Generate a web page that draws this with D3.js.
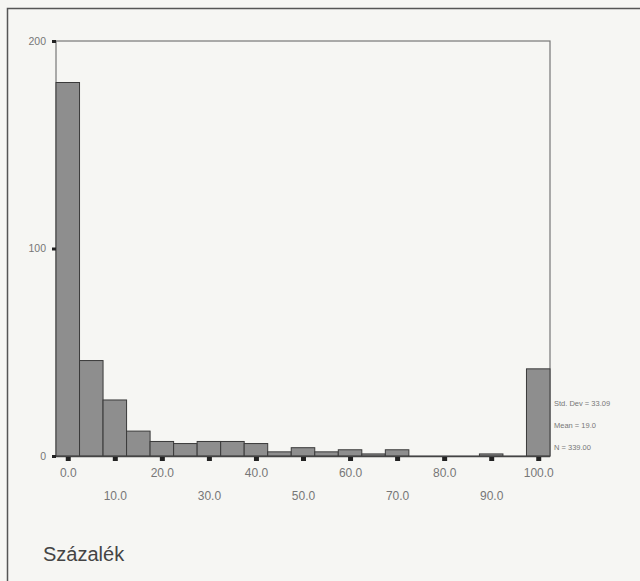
<!DOCTYPE html>
<html>
<head>
<meta charset="utf-8">
<script src="https://cdn.jsdelivr.net/npm/d3@7"></script>
<style>
  body { margin: 0; background: #f6f6f3; }
  text { font-family: Arial, "Liberation Sans", sans-serif; }
</style>
</head>
<body>
<script>
// bin centres (width 5) and counts
var binCenters = [0, 5, 10, 15, 20, 25, 30, 35, 40, 45, 50, 55, 60, 65, 70, 75, 80, 85, 90, 95, 100];
var counts = [180, 46, 27, 12, 7, 6, 7, 7, 6, 2, 4, 2, 3, 1, 3, 0, 0, 0, 1, 0, 42];
var xTicks = [0, 10, 20, 30, 40, 50, 60, 70, 80, 90, 100];
var yTicks = [0, 100, 200];
var stats = ['Std. Dev = 33.09', 'Mean = 19.0', 'N = 339.00'];
var axisTitle = 'Százalék';

var width = 640;
var height = 581;
var binWidth = 5;

var svg = d3.select('body').append('svg')
    .attr('width', width)
    .attr('height', height);

// outer page frame (only left and top visible)
svg.append('path')
    .attr('d', 'M7.5,' + height + 'V8.5H' + width)
    .attr('fill', 'none')
    .attr('stroke', '#555')
    .attr('stroke-width', 1.5);

var x = d3.scaleLinear().domain([-2.5, 102.5]).range([56, 550]);
var y = d3.scaleLinear().domain([0, 200]).range([456, 41]);

// plot box
svg.append('rect')
    .attr('x', x(-2.5))
    .attr('y', y(200))
    .attr('width', x(102.5) - x(-2.5))
    .attr('height', y(0) - y(200))
    .attr('fill', 'none')
    .attr('stroke', '#777')
    .attr('stroke-width', 1.2);

// bars
svg.selectAll('rect.bar')
    .data(binCenters)
    .enter().append('rect')
    .attr('class', 'bar')
    .attr('x', function(d) { return x(d - binWidth / 2); })
    .attr('y', function(d, i) { return y(counts[i]); })
    .attr('width', x(binWidth) - x(0))
    .attr('height', function(d, i) { return y(0) - y(counts[i]); })
    .attr('fill', '#8e8e8e')
    .attr('stroke', '#3a3a3a')
    .attr('stroke-width', 1);

// baseline
svg.append('line')
    .attr('x1', x(-2.5)).attr('x2', x(102.5))
    .attr('y1', y(0) + 0.5).attr('y2', y(0) + 0.5)
    .attr('stroke', '#444')
    .attr('stroke-width', 1.5);

// y axis
var yAxis = svg.append('g')
    .attr('transform', 'translate(' + x(-2.5) + ',0)')
    .call(d3.axisLeft(y).tickValues(yTicks).tickSize(4).tickPadding(6).tickFormat(d3.format('d')));
yAxis.select('.domain').remove();
yAxis.selectAll('line').attr('stroke', '#222').attr('stroke-width', 3);
yAxis.selectAll('text').attr('fill', '#777').attr('font-size', 10.5);

// x axis with staggered labels
var xAxis = svg.append('g')
    .attr('transform', 'translate(0,' + (y(0) + 1) + ')')
    .call(d3.axisBottom(x).tickValues(xTicks).tickSize(4).tickPadding(8).tickFormat(d3.format('.1f')));
xAxis.select('.domain').remove();
xAxis.selectAll('line').attr('stroke', '#222').attr('stroke-width', 5);
xAxis.selectAll('text')
    .attr('fill', '#777')
    .attr('font-size', 12)
    .attr('dy', function(d, i) { return i % 2 ? '2.55em' : '0.7em'; });

// stats box text
svg.selectAll('text.stat')
    .data(stats)
    .enter().append('text')
    .attr('class', 'stat')
    .attr('x', 554)
    .attr('y', function(d, i) { return 406 + i * 22; })
    .attr('fill', '#777')
    .attr('font-size', 7.5)
    .text(function(d) { return d; });

// axis title
svg.append('text')
    .attr('x', 43)
    .attr('y', 561)
    .attr('fill', '#444')
    .attr('font-size', 20)
    .text(axisTitle);
</script>
</body>
</html>
